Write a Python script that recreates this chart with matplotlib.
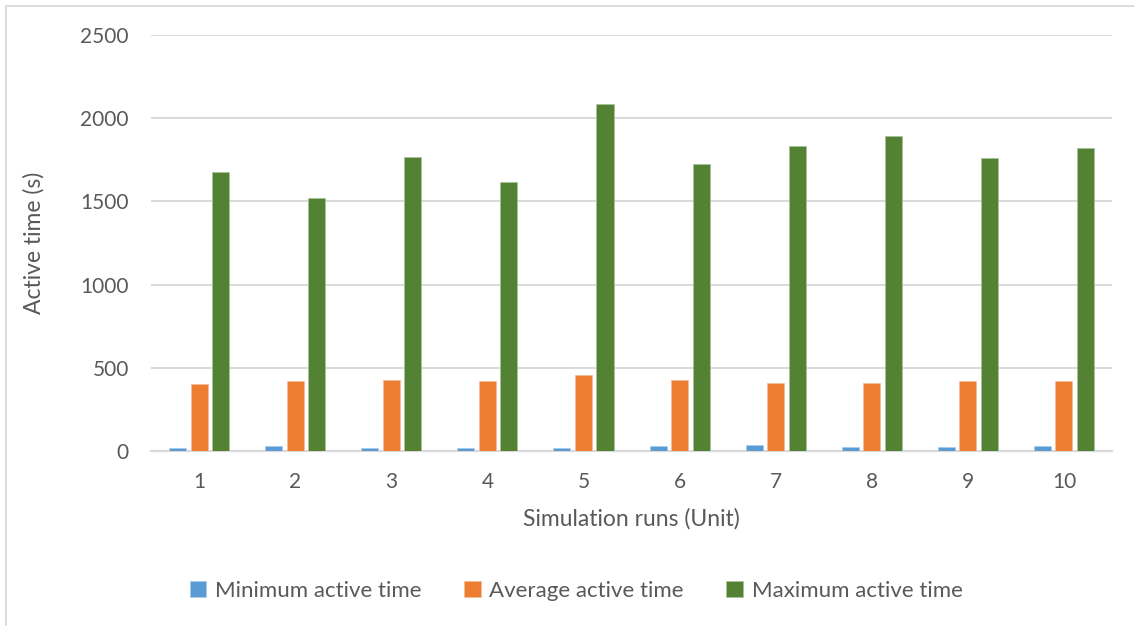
import matplotlib
matplotlib.use("Agg")
import matplotlib.pyplot as plt
import numpy as np
from matplotlib.lines import Line2D

runs = ["1", "2", "3", "4", "5", "6", "7", "8", "9", "10"]
min_time = [20, 32, 16, 20, 20, 32, 36, 24, 22, 30]
avg_time = [402, 418, 426, 418, 456, 424, 408, 408, 420, 420]
max_time = [1678, 1518, 1764, 1614, 2085, 1724, 1834, 1890, 1758, 1818]

series_names = ["Minimum active time", "Average active time", "Maximum active time"]
colors = ["#5B9BD5", "#ED7D31", "#548235"]
edges = ["#A9CBEA", "#F6BE98", "#A9C19A"]
text_color = "#595959"
grid_color = "#D9D9D9"

plt.rcParams['font.family'] = ['Lato', 'DejaVu Sans']

fig = plt.figure(figsize=(11.34, 6.26), dpi=100)
ax = fig.add_axes([0.1332, 0.2796, 0.8474, 0.6645])

x = np.arange(len(runs))
width = 0.177
offset = 0.224
for i, vals in enumerate([min_time, avg_time, max_time]):
    ax.bar(x + (i - 1) * offset, vals, width, color=colors[i],
           label=series_names[i], edgecolor=edges[i], linewidth=0.5, zorder=3)

ax.set_xlim(-0.5, len(runs) - 0.5)
ax.set_ylim(0, 2500)
ax.set_yticks(range(0, 2501, 500))
ax.set_xticks(x)
ax.set_xticklabels(runs)
ax.yaxis.grid(True, color=grid_color, linewidth=1.4, zorder=0)
ax.set_axisbelow(True)

for s in ['top', 'right', 'left']:
    ax.spines[s].set_visible(False)
ax.spines['bottom'].set_color(grid_color)
ax.spines['bottom'].set_linewidth(1.6)
ax.tick_params(axis='both', length=0, labelsize=15, colors=text_color)
ax.tick_params(axis='y', pad=16)
ax.tick_params(axis='x', pad=15)

ax.set_xlabel("Simulation runs (Unit)", fontsize=16.5, color=text_color, labelpad=12)
ax.set_ylabel("Active time (s)", fontsize=16.5, color=text_color, labelpad=26)

leg = fig.legend(loc='center', bbox_to_anchor=(0.508, 0.056), ncol=3,
                 frameon=False, fontsize=16, handlelength=0.75, handleheight=0.75,
                 handletextpad=0.4, columnspacing=1.9)
for t in leg.get_texts():
    t.set_color(text_color)

fig.add_artist(Line2D([0.005, 0.005], [0.0, 0.991], transform=fig.transFigure,
                      color=grid_color, linewidth=1.3))
fig.add_artist(Line2D([0.005, 1.0], [0.991, 0.991], transform=fig.transFigure,
                      color=grid_color, linewidth=1.3))

fig.savefig("out.png", dpi=100)
